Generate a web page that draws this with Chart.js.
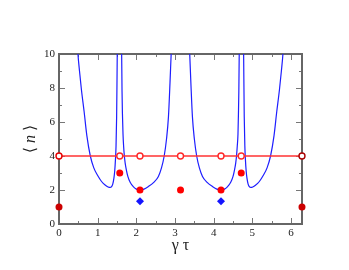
<!DOCTYPE html>
<html>
<head>
<meta charset="utf-8">
<script src="https://cdn.jsdelivr.net/npm/chart.js@4.4.0/dist/chart.umd.min.js"></script>
<style>
html, body { margin: 0; padding: 0; background: #fff; }
#wrap { width: 349px; height: 270px; }
</style>
</head>
<body>
<div id="wrap"><canvas id="myChart"></canvas></div>
<script>
// blue curve, four branches
let branch1X = [0.47, 0.49, 0.53, 0.58, 0.65, 0.72, 0.81, 0.90, 1.00, 1.10, 1.20, 1.27, 1.32, 1.36, 1.39, 1.42, 1.44, 1.46, 1.475, 1.49, 1.50, 1.51];
let branch1Y = [10.8, 10.0, 9.0, 7.9, 6.6, 5.2, 4.0, 3.3, 2.85, 2.5, 2.28, 2.18, 2.15, 2.2, 2.35, 2.7, 3.1, 3.8, 4.6, 6.3, 8.5, 11];
let branch2X = [1.61, 1.62, 1.63, 1.64, 1.655, 1.67, 1.69, 1.71, 1.74, 1.78, 1.84, 1.92, 2.00, 2.09, 2.20, 2.31, 2.45, 2.57, 2.65, 2.72, 2.78, 2.83, 2.87, 2.90, 2.92];
let branch2Y = [11, 10.0, 7.8, 6.5, 5.3, 4.6, 4.0, 3.6, 3.2, 2.8, 2.45, 2.2, 2.05, 2.0, 2.05, 2.2, 2.45, 2.8, 3.3, 4.0, 5.0, 6.3, 8.3, 10.0, 11];
let branch3X = [3.36, 3.38, 3.41, 3.45, 3.50, 3.56, 3.63, 3.71, 3.83, 3.97, 4.08, 4.19, 4.28, 4.36, 4.44, 4.50, 4.54, 4.57, 4.59, 4.61, 4.628, 4.64, 4.65, 4.66, 4.67];
let branch3Y = [11, 10.0, 8.3, 6.3, 5.0, 4.0, 3.3, 2.8, 2.45, 2.2, 2.05, 2.0, 2.05, 2.2, 2.45, 2.8, 3.2, 3.6, 4.0, 4.6, 5.3, 6.5, 7.8, 10.0, 11];
let branch4X = [4.77, 4.78, 4.79, 4.805, 4.82, 4.84, 4.86, 4.89, 4.92, 4.96, 5.01, 5.08, 5.18, 5.28, 5.38, 5.47, 5.56, 5.63, 5.70, 5.75, 5.79, 5.81];
let branch4Y = [11, 8.5, 6.3, 4.6, 3.8, 3.1, 2.7, 2.35, 2.2, 2.15, 2.18, 2.28, 2.5, 2.85, 3.3, 4.0, 5.2, 6.6, 7.9, 9.0, 10.0, 10.8];

// red line with open circles
let openX = [0, 1.571, 2.094, 3.142, 4.189, 4.712, 6.283];
let openY = [4, 4, 4, 4, 4, 4, 4];
// red filled dots
let dotX = [0, 1.571, 2.094, 3.142, 4.189, 4.712, 6.283];
let dotY = [1, 3, 2, 2, 2, 3, 1];
// blue diamonds
let diamondX = [2.094, 4.189];
let diamondY = [1.333, 1.333];

// axes
let xMajor = [0, 1, 2, 3, 4, 5, 6];
let xMinor = [0.5, 1.5, 2.5, 3.5, 4.5, 5.5];
let yMajor = [0, 2, 4, 6, 8, 10];
let yMinor = [1, 3, 5, 7, 9];
let xMax = 6.2832;

function pts(xs, ys) {
    return xs.map((x, i) => ({x: x, y: ys[i]}));
}

let serif = "'Liberation Serif', 'Times New Roman', Times, 'DejaVu Serif', serif";

function curve(xs, ys) {
    return {
        data: pts(xs, ys),
        showLine: true,
        borderColor: 'rgb(30,30,255)',
        borderWidth: 1.2,
        pointRadius: 0,
        cubicInterpolationMode: 'monotone',
        order: 5
    };
}

// frame, inward ticks on all sides, axis titles
let framePlugin = {
    id: 'frame',
    beforeDatasetsDraw(chart) {
        let ctx = chart.ctx, a = chart.chartArea;
        let xs = chart.scales.x, ys = chart.scales.y;
        ctx.save();
        ctx.strokeStyle = '#777';
        ctx.lineWidth = 1;
        function seg(x1, y1, x2, y2) {
            ctx.beginPath(); ctx.moveTo(x1, y1); ctx.lineTo(x2, y2); ctx.stroke();
        }
        xMajor.forEach(v => {
            let p = Math.round(xs.getPixelForValue(v)) + 0.5;
            seg(p, a.bottom, p, a.bottom - 6); seg(p, a.top, p, a.top + 6);
        });
        xMinor.forEach(v => {
            let p = Math.round(xs.getPixelForValue(v)) + 0.5;
            seg(p, a.bottom, p, a.bottom - 3); seg(p, a.top, p, a.top + 3);
        });
        yMajor.forEach(v => {
            let p = Math.round(ys.getPixelForValue(v)) + 0.5;
            seg(a.left, p, a.left + 6, p); seg(a.right, p, a.right - 6, p);
        });
        yMinor.forEach(v => {
            let p = Math.round(ys.getPixelForValue(v)) + 0.5;
            seg(a.left, p, a.left + 3, p); seg(a.right, p, a.right - 3, p);
        });
        ctx.strokeStyle = '#666';
        ctx.lineWidth = 2;
        ctx.strokeRect(a.left, a.top, a.right - a.left, a.bottom - a.top);

        // x title
        ctx.fillStyle = '#222';
        ctx.textAlign = 'center';
        ctx.textBaseline = 'middle';
        ctx.font = '16px ' + serif;
        ctx.fillText('γ τ', (a.left + a.right) / 2, 246);

        // y title with italic n
        ctx.translate(31, (a.top + a.bottom) / 2);
        ctx.rotate(-Math.PI / 2);
        let parts = [['⟨ ', '16px ' + serif], ['n', 'italic 16px ' + serif], [' ⟩', '16px ' + serif]];
        let w = 0;
        parts.forEach(p => { ctx.font = p[1]; w += ctx.measureText(p[0]).width; });
        let x = -w / 2;
        ctx.textAlign = 'left';
        parts.forEach(p => { ctx.font = p[1]; ctx.fillText(p[0], x, 0); x += ctx.measureText(p[0]).width; });
        ctx.restore();
    }
};

let ctx = document.getElementById('myChart').getContext('2d');
let myChart = new Chart(ctx, {
    type: 'scatter',
    data: {
        datasets: [
            {
                data: pts(diamondX, diamondY),
                pointStyle: 'rectRot',
                pointRadius: 4,
                backgroundColor: 'rgb(20,20,255)',
                borderColor: 'rgb(20,20,255)',
                borderWidth: 0,
                clip: false,
                order: 1
            },
            {
                data: pts(dotX, dotY),
                pointRadius: 3.5,
                backgroundColor: ['#cc0000', 'red', 'red', 'red', 'red', 'red', '#cc0000'],
                borderWidth: 0,
                clip: false,
                order: 1
            },
            {
                data: pts(openX, openY),
                showLine: true,
                borderColor: 'rgb(255,50,50)',
                borderWidth: 1.6,
                pointRadius: 3,
                pointBorderWidth: 1.4,
                pointBorderColor: ['rgb(230,0,0)', 'rgb(255,40,40)', 'rgb(255,40,40)', 'rgb(255,40,40)', 'rgb(255,40,40)', 'rgb(255,40,40)', '#aa0000'],
                pointBackgroundColor: '#fff',
                clip: false,
                order: 2
            },
            curve(branch1X, branch1Y),
            curve(branch2X, branch2Y),
            curve(branch3X, branch3Y),
            curve(branch4X, branch4Y)
        ]
    },
    options: {
        responsive: true,
        maintainAspectRatio: false,
        animation: false,
        layout: { padding: { left: 0, right: 47, top: 54, bottom: 0 } },
        plugins: {
            legend: { display: false },
            tooltip: { enabled: false }
        },
        scales: {
            x: {
                type: 'linear',
                min: 0,
                max: xMax,
                grid: { display: false, drawTicks: false },
                border: { display: false },
                afterBuildTicks: s => { s.ticks = xMajor.map(v => ({value: v})); },
                afterFit: s => { s.height = 46; },
                ticks: {
                    padding: 3,
                    color: '#222',
                    font: { family: serif, size: 11 },
                    maxRotation: 0
                }
            },
            y: {
                min: 0,
                max: 10,
                grid: { display: false, drawTicks: false },
                border: { display: false },
                afterBuildTicks: s => { s.ticks = yMajor.map(v => ({value: v})); },
                afterFit: s => { s.width = 59; },
                ticks: {
                    padding: 4,
                    color: '#222',
                    font: { family: serif, size: 11 }
                }
            }
        }
    },
    plugins: [framePlugin]
});
</script>
</body>
</html>
